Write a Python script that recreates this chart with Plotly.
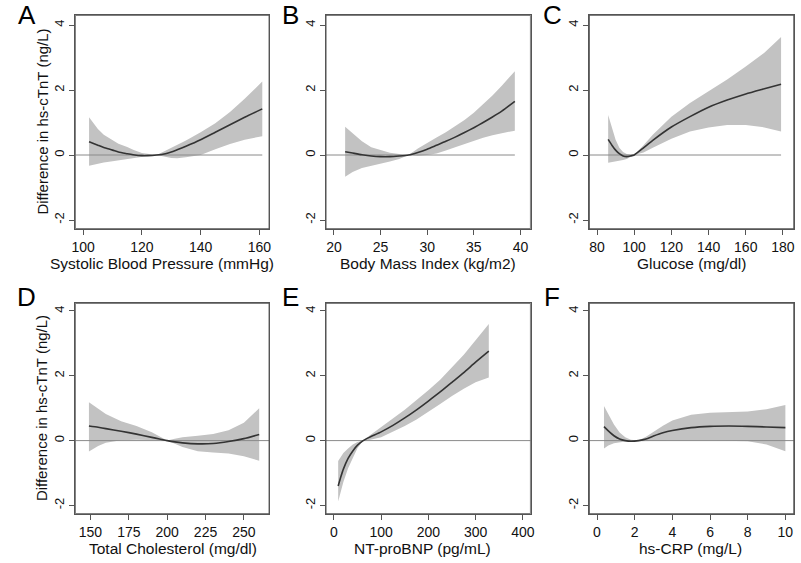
import plotly.graph_objects as go

W, H = 801, 563

# ---------------- data ----------------
a_x = [102, 105, 107, 110, 112, 115, 117, 120, 122, 125, 128, 130, 132, 135, 140, 145, 150, 155, 161]
a_est = [0.41, 0.30, 0.23, 0.15, 0.09, 0.04, 0.01, -0.02, -0.02, 0.0, 0.04, 0.09, 0.16, 0.27, 0.47, 0.70, 0.93, 1.16, 1.42]
a_hi = [1.16, 0.80, 0.62, 0.45, 0.35, 0.25, 0.16, 0.06, 0.03, 0.0, 0.13, 0.22, 0.31, 0.45, 0.70, 0.98, 1.32, 1.73, 2.26]
a_lo = [-0.33, -0.27, -0.23, -0.19, -0.16, -0.13, -0.10, -0.06, -0.03, 0.0, -0.06, -0.09, -0.10, -0.07, 0.0, 0.18, 0.34, 0.47, 0.58]

b_x = [21.2, 22, 23, 24, 25, 26, 27, 28, 29, 30, 31, 32, 33, 34, 35, 36, 37, 38, 39.4]
b_est = [0.10, 0.06, 0.01, -0.03, -0.05, -0.05, -0.03, 0.0, 0.08, 0.18, 0.30, 0.42, 0.55, 0.69, 0.84, 1.00, 1.17, 1.35, 1.65]
b_hi = [0.87, 0.68, 0.42, 0.24, 0.15, 0.07, 0.03, 0.0, 0.20, 0.38, 0.54, 0.70, 0.88, 1.08, 1.30, 1.55, 1.83, 2.13, 2.58]
b_lo = [-0.67, -0.52, -0.40, -0.32, -0.26, -0.20, -0.12, 0.0, -0.02, 0.0, 0.05, 0.14, 0.24, 0.34, 0.44, 0.53, 0.61, 0.68, 0.75]

c_x = [86, 88, 90, 92, 94, 96, 98, 100, 105, 110, 120, 130, 140, 150, 160, 170, 179]
c_est = [0.48, 0.30, 0.15, 0.04, -0.03, -0.05, -0.03, 0.0, 0.22, 0.45, 0.86, 1.18, 1.47, 1.69, 1.88, 2.04, 2.18]
c_hi = [1.23, 0.82, 0.47, 0.22, 0.09, 0.03, 0.01, 0.0, 0.30, 0.62, 1.18, 1.60, 1.96, 2.32, 2.72, 3.15, 3.63]
c_lo = [-0.24, -0.21, -0.19, -0.17, -0.15, -0.12, -0.07, 0.0, 0.08, 0.22, 0.50, 0.72, 0.85, 0.92, 0.92, 0.85, 0.72]

d_x = [149, 155, 160, 170, 180, 190, 195, 200, 205, 210, 220, 230, 240, 250, 260]
d_est = [0.45, 0.41, 0.37, 0.29, 0.20, 0.10, 0.05, 0.0, -0.04, -0.07, -0.10, -0.09, -0.03, 0.06, 0.19]
d_hi = [1.18, 0.97, 0.82, 0.60, 0.45, 0.26, 0.13, 0.0, 0.06, 0.10, 0.15, 0.20, 0.32, 0.55, 1.00]
d_lo = [-0.34, -0.17, -0.07, 0.01, 0.03, 0.02, 0.01, 0.0, -0.10, -0.20, -0.33, -0.37, -0.40, -0.48, -0.62]

e_x = [9, 15, 20, 30, 40, 50, 62, 75, 100, 125, 150, 175, 200, 225, 250, 275, 300, 328]
e_est = [-1.40, -1.10, -0.88, -0.55, -0.32, -0.14, 0.0, 0.10, 0.27, 0.47, 0.70, 0.95, 1.22, 1.50, 1.80, 2.10, 2.42, 2.76]
e_hi = [-0.63, -0.48, -0.38, -0.24, -0.12, -0.04, 0.0, 0.15, 0.42, 0.68, 0.95, 1.25, 1.55, 1.88, 2.25, 2.65, 3.10, 3.60]
e_lo = [-1.88, -1.55, -1.28, -0.85, -0.52, -0.23, 0.0, 0.02, 0.10, 0.27, 0.45, 0.65, 0.88, 1.13, 1.38, 1.60, 1.80, 1.95]

f_x = [0.37, 0.6, 0.9, 1.2, 1.5, 1.8, 2.2, 2.6, 3, 3.5, 4, 5, 6, 7, 8, 9, 10]
f_est = [0.43, 0.30, 0.15, 0.05, 0.0, -0.02, 0.0, 0.05, 0.14, 0.24, 0.31, 0.40, 0.44, 0.45, 0.44, 0.42, 0.40]
f_hi = [1.07, 0.80, 0.50, 0.25, 0.10, 0.03, 0.0, 0.12, 0.28, 0.46, 0.62, 0.80, 0.86, 0.88, 0.90, 0.97, 1.10]
f_lo = [-0.24, -0.15, -0.08, -0.05, -0.03, -0.02, 0.0, -0.02, -0.02, -0.01, 0.0, 0.0, 0.0, 0.0, -0.02, -0.12, -0.33]

letters = ["A", "B", "C", "D", "E", "F"]
x_titles = ["Systolic Blood Pressure (mmHg)", "Body Mass Index (kg/m2)", "Glucose (mg/dl)",
            "Total Cholesterol (mg/dl)", "NT-proBNP (pg/mL)", "hs-CRP (mg/L)"]
y_title = "Difference in hs-cTnT (ng/L)"
x_ticks = [[100, 120, 140, 160], [20, 25, 30, 35, 40], [80, 100, 120, 140, 160, 180],
           [150, 175, 200, 225, 250], [0, 100, 200, 300, 400], [0, 2, 4, 6, 8, 10]]
y_ticks = [-2, 0, 2, 4]
y_ticktext = ["-2", "0", "2", "4"]

panels = [(a_x, a_est, a_lo, a_hi), (b_x, b_est, b_lo, b_hi), (c_x, c_est, c_lo, c_hi),
          (d_x, d_est, d_lo, d_hi), (e_x, e_est, e_lo, e_hi), (f_x, f_est, f_lo, f_hi)]

# ---------------- layout geometry (pixels) ----------------
col_px = [(72, 268), (325, 532), (591, 798)]
row_px = [(15, 229), (303, 514)]
x_ranges = [[97.3, 163.4], [19.12, 41.1], [75.74, 185.97], [140.1, 266.6], [-17.3, 416.7], [-0.42, 10.46]]
y_ranges = [[-2.277, 4.308], [-2.265, 4.246]]
minor_dt = [5, 1, 5, 5, 20, 0.5]
zero_full = [False, False, False, True, True, True]
title_cx = [160, 428, 694, 171, 423, 693]

FONT = "Arial, Liberation Sans, Helvetica, sans-serif"
BAND = "#c2c2c2"
CURVE = "#333333"
ZERO = "#8a8a8a"
FRAME = "#555555"

fig = go.Figure()
layout = {}
annotations = []

for i, (xs, est, lo, hi) in enumerate(panels):
    r, c = divmod(i, 3)
    n = i + 1
    xa = "x" if n == 1 else f"x{n}"
    ya = "y" if n == 1 else f"y{n}"
    fig.add_trace(go.Scatter(x=list(xs) + list(xs)[::-1], y=list(hi) + list(lo)[::-1],
                             fill="toself", fillcolor=BAND, line=dict(width=0),
                             mode="lines", hoverinfo="skip", showlegend=False,
                             xaxis=xa, yaxis=ya))
    x_end = x_ranges[i][1] if zero_full[i] else xs[-1]
    fig.add_trace(go.Scatter(x=[x_ranges[i][0], x_end], y=[0, 0], mode="lines",
                             line=dict(color=ZERO, width=1), showlegend=False,
                             hoverinfo="skip", xaxis=xa, yaxis=ya))
    fig.add_trace(go.Scatter(x=xs, y=est, mode="lines", line=dict(color=CURVE, width=1.6,
                             shape="spline", smoothing=0.6),
                             showlegend=False, xaxis=xa, yaxis=ya))
    # plot-region frame (inner edge), derived from the axis ranges
    xr, yr = x_ranges[i], y_ranges[r]
    fig.add_trace(go.Scatter(x=[xr[0], xr[1], xr[1], xr[0], xr[0]],
                             y=[yr[0], yr[0], yr[1], yr[1], yr[0]],
                             mode="lines", line=dict(color=FRAME, width=1.5),
                             hoverinfo="skip", showlegend=False, xaxis=xa, yaxis=ya))

    x0, x1 = col_px[c]
    y0, y1 = row_px[r]
    xkey = "xaxis" if n == 1 else f"xaxis{n}"
    ykey = "yaxis" if n == 1 else f"yaxis{n}"
    layout[xkey] = dict(domain=[x0 / W, x1 / W], range=x_ranges[i], anchor=ya,
                        tickvals=x_ticks[i], ticks="outside", ticklen=5, tickcolor=FRAME,
                        showline=True, mirror=True, linecolor=FRAME, linewidth=1,
                        showgrid=False, zeroline=False,
                        tickfont=dict(family=FONT, size=14, color="#111"))
    layout[ykey] = dict(domain=[1 - y1 / H, 1 - y0 / H], range=y_ranges[r], anchor=xa,
                        tickvals=y_ticks, ticktext=y_ticktext, ticks="outside", ticklen=5,
                        tickcolor=FRAME, tickangle=-90,
                        showline=True, mirror=True, linecolor=FRAME, linewidth=1,
                        showgrid=False, zeroline=False,
                        tickfont=dict(family=FONT, size=13, color="#111"))
    # minor ticks via an overlaying x axis (ticks only)
    m = n + 6
    mkey = f"xaxis{m}"
    lo_t, hi_t = x_ticks[i][0], x_ticks[i][-1]
    k = int(round((hi_t - lo_t) / minor_dt[i]))
    minor_vals = [lo_t + j * minor_dt[i] for j in range(k + 1)]
    layout[mkey] = dict(overlaying=xa, matches=xa, anchor=ya, side="bottom",
                        tickvals=minor_vals, ticks="outside", ticklen=3, tickcolor=FRAME,
                        showticklabels=False, showline=False, showgrid=False, zeroline=False)
    annotations.append(dict(text=x_titles[i], x=title_cx[i] / W, y=1 - (y1 + 34) / H,
                            xref="paper", yref="paper", showarrow=False,
                            xanchor="center", yanchor="middle",
                            font=dict(family=FONT, size=15.5, color="#111")))
    lx = [23, 289, 554][c]
    ly = [15, 297][r]
    annotations.append(dict(text=letters[i], x=lx / W, y=1 - ly / H, xref="paper", yref="paper",
                            showarrow=False, xanchor="center", yanchor="middle",
                            font=dict(family=FONT, size=26, color="#000")))
    if c == 0:
        annotations.append(dict(text=y_title, x=38 / W, y=1 - ((y0 + y1) / 2) / H,
                                xref="paper", yref="paper", showarrow=False, textangle=-90,
                                xanchor="center", yanchor="middle",
                                font=dict(family=FONT, size=15, color="#111")))

fig.update_layout(width=W, height=H, margin=dict(l=0, r=0, t=0, b=0),
                  paper_bgcolor="white", plot_bgcolor="white",
                  annotations=annotations, **layout)

fig.write_html("out.html", config={"displayModeBar": False},
               post_script="document.body.style.margin='0';document.body.style.overflow='hidden';")
